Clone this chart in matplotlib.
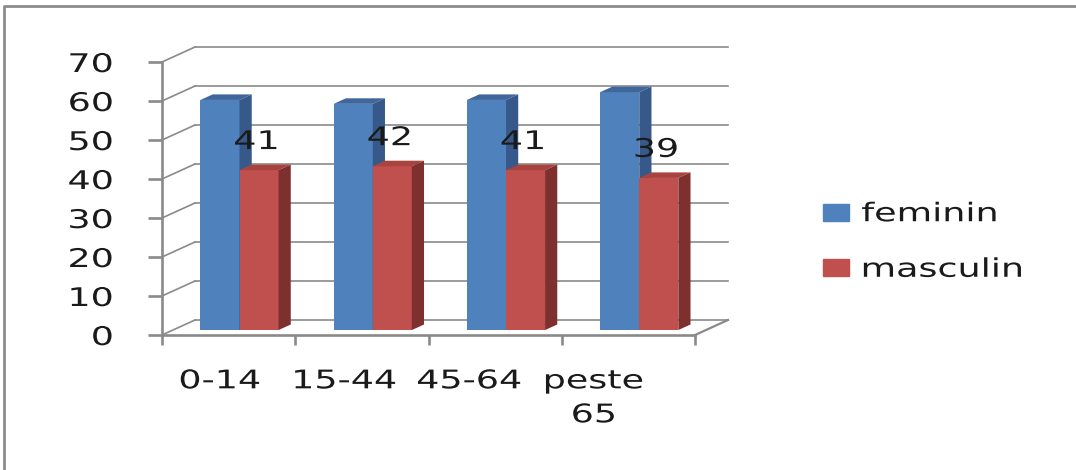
import matplotlib
matplotlib.use("Agg")
import matplotlib.pyplot as plt
from matplotlib.lines import Line2D
from matplotlib.patches import Patch
from matplotlib.patheffects import AbstractPathEffect
from matplotlib.transforms import Affine2D

# data
categories = ["0-14", "15-44", "45-64", "peste\n65"]
feminin = [59, 58, 59, 61]
masculin = [41, 42, 41, 39]
series_names = ["feminin", "masculin"]
y_ticks = [0, 10, 20, 30, 40, 50, 60, 70]

# colours (front, side, top)
BLUE = ("#4F81BD", "#36598A", "#40679B")
RED = ("#C0504D", "#7D302E", "#A8433F")
GRID = "#8a8a8a"
TEXT = "#1a1a1a"

W, H = 1076, 470
FS = 18.5
SX = 1.42


class Stretch(AbstractPathEffect):
    """Widen glyphs horizontally, like the squashed-looking original."""

    def __init__(self, sx=SX, anchor="center"):
        super().__init__()
        self.sx = sx
        self.anchor = anchor

    def draw_path(self, renderer, gc, tpath, affine, rgbFace=None):
        ext = tpath.get_extents()
        cx = {"left": ext.x0, "center": (ext.x0 + ext.x1) / 2,
              "right": ext.x1}[self.anchor]
        st = Affine2D().translate(-cx, 0).scale(self.sx, 1).translate(cx, 0)
        renderer.draw_path(gc, tpath, st + affine, rgbFace)


fig = plt.figure(figsize=(W / 100, H / 100), dpi=100)
# front plane of the plot: x 162..695 px, y 62..335 px
ax = fig.add_axes([162 / W, (H - 335) / H, (695 - 162) / W, 273 / H])
n = len(categories)
ax.set_xlim(0, n)
ax.set_ylim(0, 70)

# depth of the box in data units (33 px right, 15 px up)
px_x = (695 - 162) / n
px_y = 273 / 70
DX = 33 / px_x
DY = 15 / px_y

for s in ("top", "right"):
    ax.spines[s].set_visible(False)
for s in ("left", "bottom"):
    ax.spines[s].set_color(GRID)
    ax.spines[s].set_linewidth(1.9)

ax.set_yticks(y_ticks)
ax.set_yticklabels([str(t) for t in y_ticks], fontsize=FS, color=TEXT,
                   path_effects=[Stretch(SX, "right")])
ax.tick_params(axis="y", length=10, width=1.9, color=GRID, pad=25)

ax.set_xticks(range(n + 1))
ax.set_xticklabels([])
ax.tick_params(axis="x", which="major", length=7.5, width=1.9, color=GRID)
# labels drift a little left of the category centres in the original
ax.set_xticks([i + 0.5 - 0.065 * (i + 1) for i in range(n)], minor=True)
ax.set_xticklabels(categories, minor=True, fontsize=FS, color=TEXT,
                   linespacing=1.4, path_effects=[Stretch(SX, "center")])
ax.tick_params(axis="x", which="minor", length=0, pad=24)

# walls: back grid lines, left-wall diagonals, floor edge
for t in y_ticks:
    ax.plot([DX, n + DX], [t + DY, t + DY], color=GRID, lw=1.2,
            clip_on=False, zorder=1)
    ax.plot([0, DX], [t, t + DY], color=GRID, lw=1.2, clip_on=False, zorder=1)
ax.plot([n, n + DX], [0, DY], color=GRID, lw=1.6, clip_on=False, zorder=1)

# bars (3D look)
f0 = 0.33   # bar front plane, fraction of the depth
bd = 0.37   # bar depth, fraction of the depth
bw = 0.293  # bar width in category units
bot = f0 * DY


def bar3d(x0, v, cols):
    ax.bar(x0, v, width=bw, bottom=bot, align="edge", color=cols[0],
           linewidth=0, clip_on=False, zorder=3)
    top = bot + v
    ax.fill([x0, x0 + bw, x0 + bw + bd * DX, x0 + bd * DX],
            [top, top, top + bd * DY, top + bd * DY],
            color=cols[2], lw=0, clip_on=False, zorder=3)
    ax.fill([x0 + bw, x0 + bw + bd * DX, x0 + bw + bd * DX, x0 + bw],
            [bot, bot + bd * DY, top + bd * DY, top],
            color=cols[1], lw=0, clip_on=False, zorder=3)


for i in range(n):
    xc = i + 0.5 + f0 * DX
    bar3d(xc - bw, feminin[i], BLUE)
    bar3d(xc, masculin[i], RED)
    ax.text(xc + bw / 2 - 0.02, bot + masculin[i] + 7.2, str(masculin[i]),
            ha="center", va="center", fontsize=FS, color=TEXT, zorder=5,
            path_effects=[Stretch(SX, "center")])

handles = [Patch(color=BLUE[0]), Patch(color=RED[0])]
leg = fig.legend(handles, series_names, loc="center left",
                 bbox_to_anchor=(823 / W, 1 - 242 / H), frameon=False,
                 fontsize=FS, handlelength=1.0, handleheight=0.66,
                 handletextpad=0.5, labelspacing=1.15, borderpad=0,
                 borderaxespad=0)
for t in leg.get_texts():
    t.set_color(TEXT)
    t.set_path_effects([Stretch(SX, "left")])

# outer chart frame (left and top edges only are visible)
fig.add_artist(Line2D([4 / W, 4 / W, 1], [0, 1 - 6 / H, 1 - 6 / H],
                      transform=fig.transFigure, color="#8c8c8c", lw=2.0))

fig.savefig("out.png", dpi=100)
